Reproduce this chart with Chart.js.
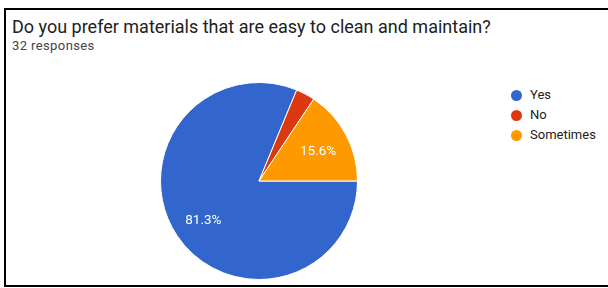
<!DOCTYPE html>
<html>
<head>
<meta charset="utf-8">
<script src="https://cdn.jsdelivr.net/npm/chart.js@4"></script>
<style>
    body { margin: 0; width: 608px; height: 288px; background: #fff; overflow: hidden; font-family: Roboto, Arial, sans-serif; }
    #frame { position: absolute; left: 4px; top: 8px; width: 620px; height: 275px; border: 2px solid #000; }
    #title { position: absolute; left: 12px; top: 16px; font-size: 18px; color: #212121; white-space: nowrap; }
    #subtitle { position: absolute; left: 12px; top: 38px; font-size: 13px; letter-spacing: 0.4px; color: #444; }
    #chartBox { position: absolute; left: 160px; top: 82px; width: 198px; height: 198px; }
    #legend { position: absolute; left: 511px; top: 85px; font-size: 13px; color: #222; }
    .item { height: 20px; line-height: 16px; display: flex; align-items: center; }
    .dot { width: 11px; height: 11px; border-radius: 50%; margin-right: 8px; }
</style>
</head>
<body>
<div id="frame"></div>
<div id="title">Do you prefer materials that are easy to clean and maintain?</div>
<div id="subtitle">32 responses</div>
<div id="chartBox"><canvas id="myPieChart"></canvas></div>
<div id="legend"></div>
<script>
// Datos de la encuesta (32 respuestas)
const answers = ['Yes', 'No', 'Sometimes'];
const counts = [26, 1, 5];
const colors = ['#3366cc', '#dc3912', '#ff9900'];

// Leyenda
document.getElementById('legend').innerHTML = answers.map((a, i) =>
    `<div class="item"><span class="dot" style="background:${colors[i]}"></span>${a}</div>`).join('');

// Etiquetas de porcentaje dentro de las rebanadas
const percentLabels = {
    id: 'percentLabels',
    afterDatasetsDraw(chart) {
        const ctx = chart.ctx;
        const meta = chart.getDatasetMeta(0);
        const total = counts.reduce((a, b) => a + b, 0);
        ctx.save();
        ctx.fillStyle = '#fff';
        ctx.font = '13.5px Roboto, Arial, sans-serif';
        ctx.textAlign = 'center';
        ctx.textBaseline = 'middle';
        meta.data.forEach((arc, i) => {
            const pct = counts[i] / total * 100;
            if (pct < 5) return;
            const mid = (arc.startAngle + arc.endAngle) / 2;
            const r = arc.outerRadius * 0.68;
            ctx.fillText(pct.toFixed(1) + '%', arc.x + Math.cos(mid) * r, arc.y + Math.sin(mid) * r + 2);
        });
        ctx.restore();
    }
};

const ctx = document.getElementById('myPieChart').getContext('2d');
const myPieChart = new Chart(ctx, {
    type: 'pie',
    data: {
        labels: answers,
        datasets: [{
            data: counts,
            backgroundColor: colors,
            borderColor: '#fff',
            borderWidth: 1,
            hoverOffset: 0
        }]
    },
    options: {
        responsive: true,
        maintainAspectRatio: false,
        animation: false,
        rotation: 90,
        layout: { padding: 0 },
        plugins: {
            legend: { display: false },
            tooltip: { enabled: false }
        }
    },
    plugins: [percentLabels]
});
</script>
</body>
</html>
